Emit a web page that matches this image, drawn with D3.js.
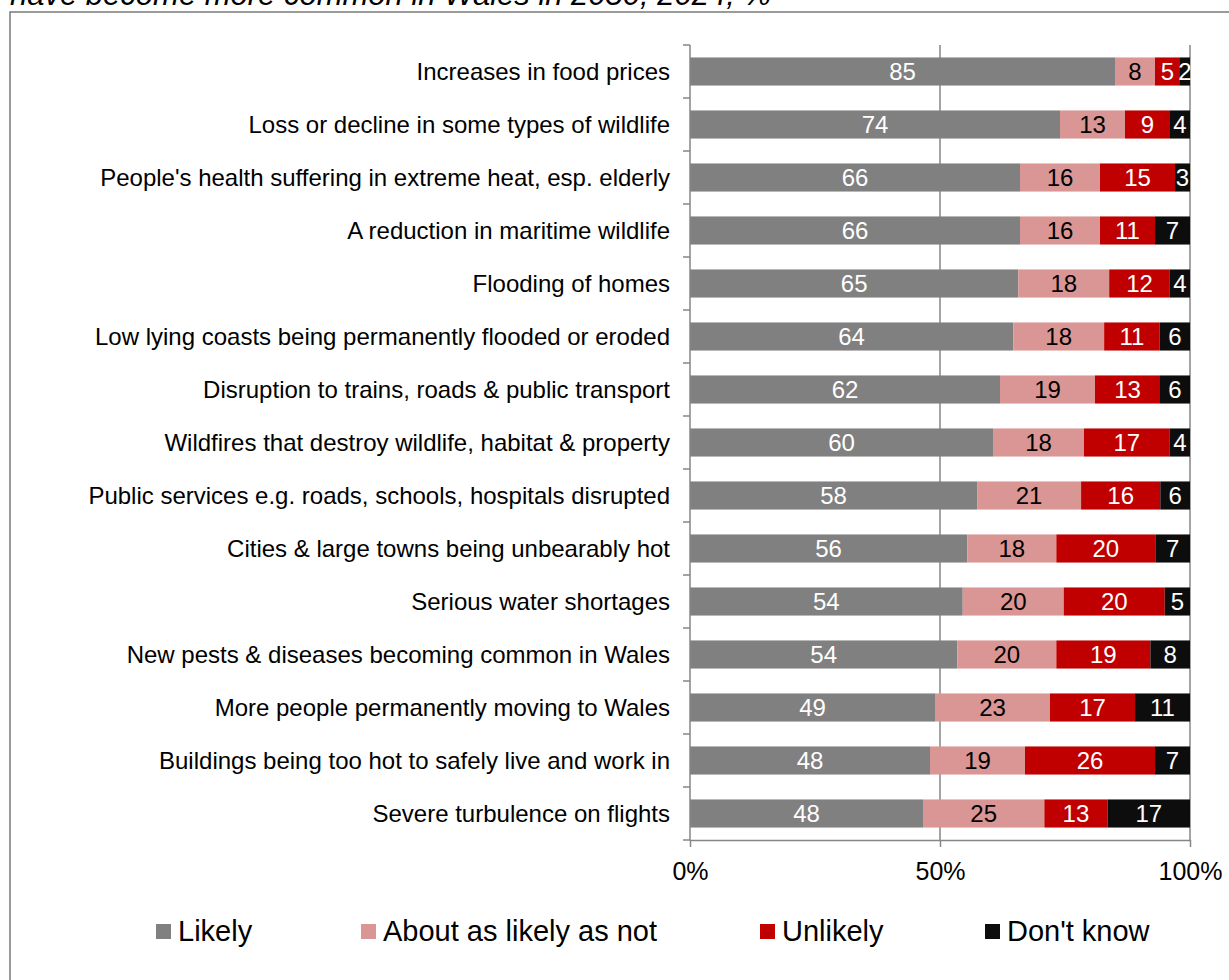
<!DOCTYPE html>
<html>
<head>
<meta charset="utf-8">
<script src="https://cdn.jsdelivr.net/npm/d3@7"></script>
<style>
  html, body { margin: 0; padding: 0; background: #fff; }
  svg { display: block; font-family: "Liberation Sans", Arial, sans-serif; }
</style>
</head>
<body>
<svg id="chart" width="1229" height="980"></svg>
<script>
// Survey items, top to bottom
const categories = [
  "Increases in food prices",
  "Loss or decline in some types of wildlife",
  "People's health suffering in extreme heat, esp. elderly",
  "A reduction in maritime wildlife",
  "Flooding of homes",
  "Low lying coasts being permanently flooded or eroded",
  "Disruption to trains, roads & public transport",
  "Wildfires that destroy wildlife, habitat & property",
  "Public services e.g. roads, schools, hospitals disrupted",
  "Cities & large towns being unbearably hot",
  "Serious water shortages",
  "New pests & diseases becoming common in Wales",
  "More people permanently moving to Wales",
  "Buildings being too hot to safely live and work in",
  "Severe turbulence on flights"
];

const seriesNames = ["Likely", "About as likely as not", "Unlikely", "Don't know"];

// Percentages per response
const likely   = [85, 74, 66, 66, 65, 64, 62, 60, 58, 56, 54, 54, 49, 48, 48];
const aboutAs  = [ 8, 13, 16, 16, 18, 18, 19, 18, 21, 18, 20, 20, 23, 19, 25];
const unlikely = [ 5,  9, 15, 11, 12, 11, 13, 17, 16, 20, 20, 19, 17, 26, 13];
const dontKnow = [ 2,  4,  3,  7,  4,  6,  6,  4,  6,  7,  5,  8, 11,  7, 17];

const xTicks = [0, 0.5, 1];
const titleLine = "have become more common in Wales in 2050, 2024, %";

const colors = ["#808080", "#D99694", "#C00000", "#0D0D0D"];
const labelColors = ["#ffffff", "#000000", "#ffffff", "#ffffff"];

const rows = categories.map((c, i) => ({
  category: c,
  "Likely": likely[i],
  "About as likely as not": aboutAs[i],
  "Unlikely": unlikely[i],
  "Don't know": dontKnow[i]
}));

const svg = d3.select("#chart");
const plot = { left: 690, right: 1190, top: 45, bottom: 840 };
const axisColor = "#868686";

// Outer frame
svg.append("rect")
  .attr("x", 10).attr("y", 12)
  .attr("width", 1240).attr("height", 990)
  .attr("fill", "none")
  .attr("stroke", "#7a7a7a")
  .attr("stroke-width", 1.5);

// Title line (continues from above the frame)
svg.append("text")
  .attr("x", 10).attr("y", 5)
  .attr("font-size", 31)
  .attr("font-style", "italic")
  .attr("fill", "#000")
  .text(titleLine);

const x = d3.scaleLinear().domain([0, 1]).range([plot.left, plot.right]);
const y = d3.scaleBand().domain(categories).range([plot.top, plot.bottom]).paddingInner(0.47).paddingOuter(0.235);
const yOuter = d3.scaleBand().domain(categories).range([plot.top, plot.bottom]);

const stacked = d3.stack().keys(seriesNames).offset(d3.stackOffsetExpand)(rows);

// Gridlines at 50% and 100%
svg.append("g")
  .selectAll("line")
  .data(xTicks.filter(t => t > 0))
  .join("line")
  .attr("x1", d => x(d)).attr("x2", d => x(d))
  .attr("y1", plot.top).attr("y2", plot.bottom)
  .attr("stroke", axisColor).attr("stroke-width", 1.5);

// Bars
const groups = svg.append("g")
  .selectAll("g")
  .data(stacked)
  .join("g")
  .attr("fill", (d, i) => colors[i]);

groups.selectAll("rect")
  .data(d => d)
  .join("rect")
  .attr("x", d => x(d[0]))
  .attr("width", d => x(d[1]) - x(d[0]))
  .attr("y", d => y(d.data.category))
  .attr("height", y.bandwidth());

// Value labels
stacked.forEach((layer, si) => {
  svg.append("g")
    .selectAll("text")
    .data(layer)
    .join("text")
    .attr("x", d => (x(d[0]) + x(d[1])) / 2)
    .attr("y", d => y(d.data.category) + y.bandwidth() / 2)
    .attr("dy", "0.35em")
    .attr("text-anchor", "middle")
    .attr("font-size", 24)
    .attr("fill", labelColors[si])
    .text(d => d.data[layer.key]);
});

// Left axis: line with ticks on category boundaries
const yAxis = svg.append("g");
yAxis.append("line")
  .attr("x1", plot.left).attr("x2", plot.left)
  .attr("y1", plot.top).attr("y2", plot.bottom)
  .attr("stroke", axisColor).attr("stroke-width", 1.5);
yAxis.selectAll("line.tick")
  .data(categories.map(c => yOuter(c)).concat([plot.bottom]))
  .join("line")
  .attr("class", "tick")
  .attr("x1", plot.left - 7).attr("x2", plot.left)
  .attr("y1", d => d).attr("y2", d => d)
  .attr("stroke", axisColor).attr("stroke-width", 1.5);

// Category labels
svg.append("g")
  .selectAll("text")
  .data(categories)
  .join("text")
  .attr("x", plot.left - 20)
  .attr("y", d => yOuter(d) + yOuter.bandwidth() / 2)
  .attr("dy", "0.35em")
  .attr("text-anchor", "end")
  .attr("font-size", 24)
  .attr("fill", "#000")
  .text(d => d);

// Bottom axis
const xAxis = d3.axisBottom(x)
  .tickValues(xTicks)
  .tickFormat(d3.format(".0%"))
  .tickSize(7)
  .tickSizeOuter(0);
const gx = svg.append("g")
  .attr("transform", `translate(0,${plot.bottom})`)
  .call(xAxis);
gx.select(".domain").attr("stroke", axisColor).attr("stroke-width", 1.5);
gx.selectAll(".tick line").attr("stroke", axisColor).attr("stroke-width", 1.5);
gx.selectAll(".tick text")
  .attr("font-size", 25)
  .attr("font-family", "Liberation Sans, Arial, sans-serif")
  .attr("fill", "#000")
  .attr("y", 0)
  .attr("dy", "1.6em");

// Legend
const legendX = [156, 361, 760, 985];
const legend = svg.append("g")
  .selectAll("g")
  .data(seriesNames)
  .join("g")
  .attr("transform", (d, i) => `translate(${legendX[i]},924)`);
legend.append("rect")
  .attr("width", 15).attr("height", 15)
  .attr("fill", (d, i) => colors[i]);
legend.append("text")
  .attr("x", 22).attr("y", 17)
  .attr("font-size", 29)
  .attr("fill", "#000")
  .text(d => d);
</script>
</body>
</html>
